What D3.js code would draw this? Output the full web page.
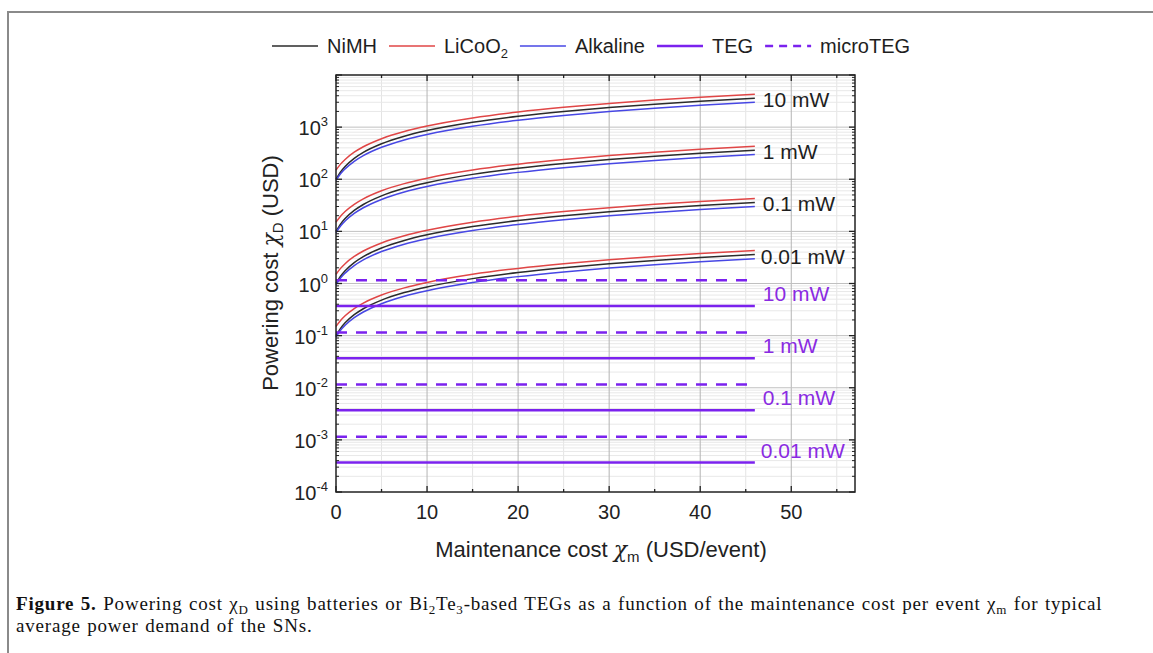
<!DOCTYPE html>
<html lang="en">
<head>
<meta charset="UTF-8">
<title>Powering cost</title>
<style>
body{margin:0;background:#fff;}
svg{display:block;font-family:"Liberation Sans",Arial,sans-serif;}
.cap{font-family:"Liberation Serif","Times New Roman",serif;}
</style>
</head>
<body>
<div class="chart"></div>
<script src="https://d3js.org/d3.v7.min.js"></script>
<script>
// maintenance cost samples (USD/event)
var xSample = [0, 0.5, 1, 2, 3, 5, 7.5, 10, 15, 20, 25, 30, 35, 40, 46];

// battery curves (USD)
var nimh10  = [100, 138, 176, 252, 328, 480, 670, 860, 1240, 1620, 2000, 2380, 2760, 3140, 3600];
var nimh1   = [10, 13.8, 17.6, 25.2, 32.8, 48, 67, 86, 124, 162, 200, 238, 276, 314, 360];
var nimh01  = [1, 1.38, 1.76, 2.52, 3.28, 4.8, 6.7, 8.6, 12.4, 16.2, 20, 23.8, 27.6, 31.4, 36];
var nimh001 = [0.1, 0.138, 0.176, 0.252, 0.328, 0.48, 0.67, 0.86, 1.24, 1.62, 2.0, 2.38, 2.76, 3.14, 3.6];

var licoo10  = [150, 195, 240, 330, 420, 600, 825, 1050, 1500, 1950, 2400, 2850, 3300, 3750, 4290];
var licoo1   = [15, 19.5, 24, 33, 42, 60, 82.5, 105, 150, 195, 240, 285, 330, 375, 429];
var licoo01  = [1.5, 1.95, 2.4, 3.3, 4.2, 6.0, 8.25, 10.5, 15, 19.5, 24, 28.5, 33, 37.5, 42.9];
var licoo001 = [0.15, 0.195, 0.24, 0.33, 0.42, 0.6, 0.825, 1.05, 1.5, 1.95, 2.4, 2.85, 3.3, 3.75, 4.29];

var alk10  = [95, 127, 158, 221, 284, 410, 568, 725, 1040, 1355, 1670, 1985, 2300, 2615, 2990];
var alk1   = [9.5, 12.7, 15.8, 22.1, 28.4, 41, 56.8, 72.5, 104, 135.5, 167, 198.5, 230, 261.5, 299];
var alk01  = [0.95, 1.27, 1.58, 2.21, 2.84, 4.1, 5.68, 7.25, 10.4, 13.55, 16.7, 19.85, 23, 26.15, 29.9];
var alk001 = [0.095, 0.127, 0.158, 0.221, 0.284, 0.41, 0.568, 0.725, 1.04, 1.355, 1.67, 1.985, 2.3, 2.615, 2.99];

// TEG costs per power level (constant in maintenance cost)
var powerLabels = ['10 mW', '1 mW', '0.1 mW', '0.01 mW'];
var tegCost      = [0.37, 0.037, 0.0037, 0.00037];
var microTegCost = [1.15, 0.115, 0.0115, 0.00115];
var tegRange = [0, 46];

var xTicks = [0, 10, 20, 30, 40, 50];
var yTickExp = [-4, -3, -2, -1, 0, 1, 2, 3];

var W = 1153, H = 653;
var svg = d3.select('.chart').append('svg').attr('width', W).attr('height', H);
svg.append('rect').attr('width', W).attr('height', H).attr('fill', '#fff');

// frame of the figure box
svg.append('path').attr('d', 'M8,' + H + 'V12H' + W)
	.attr('fill', 'none').attr('stroke', '#8a8a8a').attr('stroke-width', 2);

var L = 336, R = 855, T = 75, B = 492;
var x = d3.scaleLinear().domain([0, 57]).range([L, R]);
var y = d3.scaleLog().domain([1e-4, 1e4]).range([B, T]);

var g = svg.append('g');

// grid
var minorX = d3.range(5, 57, 10);
g.selectAll('.gxm').data(minorX).enter().append('line')
	.attr('x1', d => x(d)).attr('x2', d => x(d)).attr('y1', T).attr('y2', B)
	.attr('stroke', '#e4e4e4').attr('stroke-width', 1);
var minorY = [];
yTickExp.forEach(function(e){
	for (var k = 2; k < 10; k++) minorY.push(k * Math.pow(10, e));
});
g.selectAll('.gym').data(minorY).enter().append('line')
	.attr('x1', L).attr('x2', R).attr('y1', d => y(d)).attr('y2', d => y(d))
	.attr('stroke', '#e8e8e8').attr('stroke-width', 1);
g.selectAll('.gx').data(xTicks.slice(1)).enter().append('line')
	.attr('x1', d => x(d)).attr('x2', d => x(d)).attr('y1', T).attr('y2', B)
	.attr('stroke', '#b4b4b4').attr('stroke-width', 1);
g.selectAll('.gy').data(yTickExp.slice(1)).enter().append('line')
	.attr('x1', L).attr('x2', R).attr('y1', d => y(Math.pow(10, d))).attr('y2', d => y(Math.pow(10, d)))
	.attr('stroke', '#c0c0c0').attr('stroke-width', 1);

// battery curves
var line = d3.line().x((d, i) => x(xSample[i])).y(d => y(d)).curve(d3.curveMonotoneX);
var batteries = [
	{c: '#e04646', s: [licoo10, licoo1, licoo01, licoo001]},
	{c: '#2b2b2b', s: [nimh10, nimh1, nimh01, nimh001]},
	{c: '#4747e4', s: [alk10, alk1, alk01, alk001]}
];
batteries.forEach(function(b){
	b.s.forEach(function(vals){
		g.append('path').attr('d', line(vals)).attr('fill', 'none')
			.attr('stroke', b.c).attr('stroke-width', 1.5);
	});
});

// TEG lines
var purple = '#7b22ee';
tegCost.forEach(function(v){
	g.append('line').attr('x1', x(tegRange[0])).attr('x2', x(tegRange[1]))
		.attr('y1', y(v)).attr('y2', y(v)).attr('stroke', purple).attr('stroke-width', 2.5);
});
microTegCost.forEach(function(v){
	g.append('line').attr('x1', x(tegRange[0])).attr('x2', x(tegRange[1]))
		.attr('y1', y(v)).attr('y2', y(v)).attr('stroke', purple).attr('stroke-width', 2.5)
		.attr('stroke-dasharray', '11,9');
});

// frame + inward ticks
var ax = svg.append('g');
ax.append('rect').attr('x', L).attr('y', T).attr('width', R - L).attr('height', B - T)
	.attr('fill', 'none').attr('stroke', '#222').attr('stroke-width', 1.5);
[[L, 1], [R, -1]].forEach(function(s){
	ax.selectAll(null).data(yTickExp.concat([4])).enter().append('line')
		.attr('x1', s[0]).attr('x2', s[0] + s[1] * 6)
		.attr('y1', d => y(Math.pow(10, d))).attr('y2', d => y(Math.pow(10, d)))
		.attr('stroke', '#222').attr('stroke-width', 1.3);
	ax.selectAll(null).data(minorY).enter().append('line')
		.attr('x1', s[0]).attr('x2', s[0] + s[1] * 3)
		.attr('y1', d => y(d)).attr('y2', d => y(d))
		.attr('stroke', '#222').attr('stroke-width', 1);
});
[[B, -1], [T, 1]].forEach(function(s){
	ax.selectAll(null).data(xTicks).enter().append('line')
		.attr('x1', d => x(d)).attr('x2', d => x(d))
		.attr('y1', s[0]).attr('y2', s[0] + s[1] * 6)
		.attr('stroke', '#222').attr('stroke-width', 1.3);
	ax.selectAll(null).data(minorX).enter().append('line')
		.attr('x1', d => x(d)).attr('x2', d => x(d))
		.attr('y1', s[0]).attr('y2', s[0] + s[1] * 3)
		.attr('stroke', '#222').attr('stroke-width', 1.3);
});

// tick labels
ax.selectAll('.xl').data(xTicks).enter().append('text')
	.attr('x', d => x(d)).attr('y', B + 27).attr('text-anchor', 'middle')
	.attr('font-size', 20).attr('fill', '#222').text(d => d);
var yl = ax.selectAll('.yl').data(yTickExp).enter().append('text')
	.attr('x', L - 8).attr('y', d => y(Math.pow(10, d)) + 8).attr('text-anchor', 'end')
	.attr('font-size', 20).attr('fill', '#222');
yl.append('tspan').text('10');
yl.append('tspan').attr('font-size', 13).attr('dy', -9).text(d => d);

// axis titles
var xt = svg.append('text').attr('x', 601).attr('y', 557).attr('text-anchor', 'middle')
	.attr('font-size', 22).attr('fill', '#222');
xt.append('tspan').text('Maintenance cost ');
xt.append('tspan').attr('font-family', 'DejaVu Serif, serif').attr('font-style', 'italic').text('χ');
xt.append('tspan').attr('font-size', 15).attr('dy', 5).text('m');
xt.append('tspan').attr('dy', -5).text(' (USD/event)');

var yt = svg.append('text').attr('transform', 'translate(278,273) rotate(-90)')
	.attr('text-anchor', 'middle').attr('font-size', 22).attr('fill', '#222');
yt.append('tspan').text('Powering cost ');
yt.append('tspan').attr('font-family', 'DejaVu Serif, serif').attr('font-style', 'italic').text('χ');
yt.append('tspan').attr('font-size', 15).attr('dy', 5).text('D');
yt.append('tspan').attr('dy', -5).text(' (USD)');

// right-hand labels
var labX = x(46) + 8;
var nimhEnds = [nimh10, nimh1, nimh01, nimh001].map(a => a[a.length - 1]);
powerLabels.forEach(function(p, i){
	svg.append('text').attr('x', labX - (i === 3 ? 2 : 0)).attr('y', y(nimhEnds[i]) + 9)
		.attr('font-size', 21).attr('fill', '#1e1e1e').text(p);
	var mid = (y(tegCost[i]) + y(microTegCost[i])) / 2;
	svg.append('text').attr('x', labX - (i === 3 ? 2 : 0)).attr('y', mid + 8)
		.attr('font-size', 21).attr('fill', '#8a2be2').text(p);
});

// legend
var legendItems = [
	{name: 'NiMH', c: '#2b2b2b', w: 1.5},
	{name: 'LiCoO', sub: '2', c: '#e04646', w: 1.5},
	{name: 'Alkaline', c: '#4747e4', w: 1.5},
	{name: 'TEG', c: purple, w: 2.5},
	{name: 'microTEG', c: purple, w: 2.5, dash: '8,6'}
];
var lx = 272, ly = 46;
legendItems.forEach(function(it){
	svg.append('line').attr('x1', lx).attr('x2', lx + 46).attr('y1', ly).attr('y2', ly)
		.attr('stroke', it.c).attr('stroke-width', it.w).attr('stroke-dasharray', it.dash || null);
	var t = svg.append('text').attr('x', lx + 55).attr('y', ly + 7)
		.attr('font-size', 20).attr('fill', '#1e1e1e');
	t.append('tspan').text(it.name);
	if (it.sub) t.append('tspan').attr('font-size', 13).attr('dy', 5).text(it.sub);
	lx += 55 + t.node().getComputedTextLength() + 12;
});

// caption
var cap = svg.append('g').attr('class', 'cap').attr('font-size', 19).attr('fill', '#111')
	.attr('letter-spacing', 0.8).attr('word-spacing', 1);
var c1 = cap.append('text').attr('x', 16).attr('y', 610);
c1.append('tspan').attr('font-weight', 'bold').text('Figure 5.');
c1.append('tspan').text(' Powering cost χ');
c1.append('tspan').attr('font-size', 13).attr('dy', 4).text('D');
c1.append('tspan').attr('dy', -4).text(' using batteries or Bi');
c1.append('tspan').attr('font-size', 13).attr('dy', 4).text('2');
c1.append('tspan').attr('dy', -4).text('Te');
c1.append('tspan').attr('font-size', 13).attr('dy', 4).text('3');
c1.append('tspan').attr('dy', -4).text('-based TEGs as a function of the maintenance cost per event χ');
c1.append('tspan').attr('font-size', 13).attr('dy', 4).text('m');
c1.append('tspan').attr('dy', -4).text(' for typical');
cap.append('text').attr('x', 16).attr('y', 632).text('average power demand of the SNs.');
</script>
</body>
</html>
